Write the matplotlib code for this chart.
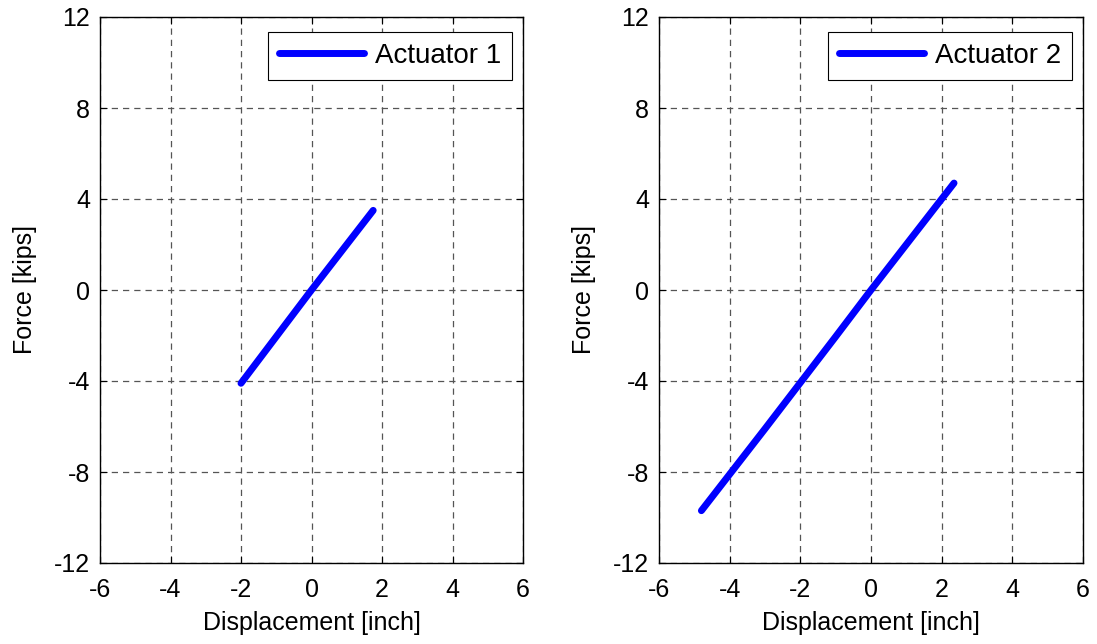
import numpy as np
import matplotlib
matplotlib.use("Agg")
import matplotlib.pyplot as plt

plt.rcParams['font.family'] = ['Liberation Sans', 'DejaVu Sans']
plt.rcParams['font.size'] = 18
plt.rcParams['axes.unicode_minus'] = False

# displacement [inch] vs force [kips]
disp1 = [-2.0, -1.0, 0.0, 1.0, 1.75]
force1 = [-4.1, -2.05, 0.0, 2.0, 3.5]
disp2 = [-4.8, -3.0, -1.0, 0.0, 1.0, 2.35]
force2 = [-9.7, -6.1, -2.05, 0.0, 2.0, 4.7]

labels = ["Actuator 1", "Actuator 2"]
xticks = [-6, -4, -2, 0, 2, 4, 6]
yticks = [-12, -8, -4, 0, 4, 8, 12]

fig = plt.figure(figsize=(10.97, 6.44), dpi=100)
ax1 = fig.add_axes([100 / 1097, 1 - 563 / 644, 423 / 1097, 546 / 644])
ax2 = fig.add_axes([659 / 1097, 1 - 563 / 644, 424 / 1097, 546 / 644])

for ax, x, y, lab in [(ax1, disp1, force1, labels[0]), (ax2, disp2, force2, labels[1])]:
    ax.plot(x, y, color='#0000ff', lw=5, solid_capstyle='round', label=lab)
    ax.set_xlim(-6, 6)
    ax.set_ylim(-12, 12)
    ax.set_xticks(xticks)
    ax.set_yticks(yticks)
    ax.grid(True, ls=(0, (5, 4)), color='#555555', lw=0.9)
    ax.tick_params(direction='in', top=True, right=True, length=5, width=0.8,
                   labelsize=18)
    ax.tick_params(axis='x', pad=11)
    ax.tick_params(axis='y', pad=7)
    for s in ax.spines.values():
        s.set_linewidth(1.0)
    ax.set_xlabel("Displacement [inch]", fontsize=18, labelpad=6)
    ax.set_ylabel("Force [kips]", fontsize=18, labelpad=12)
    leg = ax.legend(loc='upper right', bbox_to_anchor=(0.974, 0.9725),
                    borderaxespad=0, fancybox=False, edgecolor='black',
                    framealpha=1, handlelength=3.05, handletextpad=0.4,
                    borderpad=0.4, fontsize=20)
    leg.get_frame().set_linewidth(0.8)

fig.savefig("out.png", dpi=100)
